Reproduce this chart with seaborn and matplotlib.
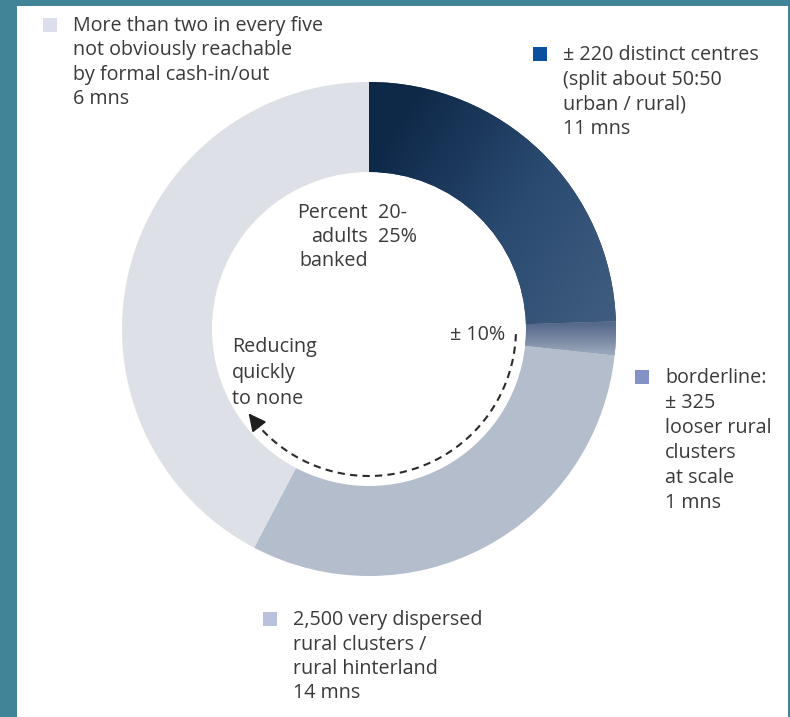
import numpy as np
import matplotlib
matplotlib.use("Agg")
import matplotlib.pyplot as plt
import seaborn as sns
from matplotlib.patches import Rectangle

# Segment shares of the ring (percent of adults), clockwise from the top
segments = ["centres", "borderline", "hinterland", "unreachable"]
shares = [24.5, 2.2, 31.0, 42.3]
ring_colors = ["#1f3c62", "#7487a2", "#b3bdcc", "#dde0e6"]
key_colors = ["#0b4f9e", "#8391c4", "#b9c1dc", "#dcdeec"]
key_texts = [
    "\u00b1 220 distinct centres\n(split about 50:50\nurban / rural)\n11 mns",
    "borderline:\n\u00b1 325\nlooser rural\nclusters\nat scale\n1 mns",
    "2,500 very dispersed\nrural clusters /\nrural hinterland\n14 mns",
    "More than two in every five\nnot obviously reachable\nby formal cash-in/out\n6 mns",
]
banked_words = "Percent\nadults\nbanked"
banked_range = "20-\n25%"
trend_start = "\u00b1 10%"
trend_end = "Reducing\nquickly\nto none"

sns.set_theme(style="white")
plt.rcParams["font.family"] = ["Open Sans", "DejaVu Sans"]

W, H = 790, 717
fig = plt.figure(figsize=(W / 100, H / 100), dpi=100)
fig.patch.set_facecolor("#428497")
ax = fig.add_axes([0, 0, 1, 1])
ax.set_facecolor("none")


def py(y):
    return H - y


# white panel
ax.add_patch(Rectangle((17, 0), 788 - 17, H - 6, facecolor="white",
                       edgecolor="none", zorder=0))

cx, cy = 369, py(329)
R, width = 247, 90
wedges, _ = ax.pie(shares, radius=R, center=(cx, cy), startangle=90,
                   counterclock=False, colors=ring_colors,
                   wedgeprops=dict(width=width, linewidth=0))
ax.set_xlim(0, W)
ax.set_ylim(0, H)
ax.set_aspect("auto")
ax.axis("off")

# gradient fills for the two darker segments
dark_cmap = sns.blend_palette(["#0e2848", "#2a4a70", "#415e80"], as_cmap=True)
border_cmap = sns.blend_palette(["#56698a", "#9aa7bb"], as_cmap=True)

x0, x1 = cx - R, cx + R
y0, y1 = cy - R, cy + R
xs = np.linspace(0, 1, 300)
ys = np.linspace(0, 1, 300)
gx, gy = np.meshgrid(xs, ys)
# darker towards the top-left, lighter towards the lower right
diag = np.clip((gx - 0.5) * 1.4 + (1 - gy) * 0.9 - 0.15, 0, 1)
im = ax.imshow(diag, cmap=dark_cmap, extent=(x0, x1, y1, y0),
               origin="upper", zorder=2, interpolation="bilinear")
im.set_clip_path(wedges[0])

vert = np.clip((1 - gy - 0.49) / 0.06, 0, 1)
im2 = ax.imshow(vert, cmap=border_cmap, extent=(x0, x1, y1, y0),
                origin="upper", zorder=2, interpolation="bilinear")
im2.set_clip_path(wedges[1])

ax.set_xlim(0, W)
ax.set_ylim(0, H)

# dashed trend arc inside the ring
r_arc = 147
theta = np.radians(np.linspace(-2, -141, 200))
ax.plot(cx + r_arc * np.cos(theta), cy + r_arc * np.sin(theta),
        color="#2b2b2b", lw=1.5, ls=(0, (3.5, 2.5)), zorder=3)
t_end = np.radians(-145)
t_pre = np.radians(-139)
ax.annotate("", xy=(cx + r_arc * np.cos(t_end), cy + r_arc * np.sin(t_end)),
            xytext=(cx + r_arc * np.cos(t_pre), cy + r_arc * np.sin(t_pre)),
            arrowprops=dict(arrowstyle="-|>,head_length=0.9,head_width=0.45",
                            color="#1e1e1e", lw=1.2, shrinkA=0, shrinkB=0),
            zorder=4)

txt = "#3a3a3a"
fs = 14.2
ls = 1.31

ax.text(368, py(203), banked_words, ha="right", va="top", fontsize=fs,
        color=txt, linespacing=1.28, multialignment="right")
ax.text(378, py(203), banked_range, ha="left", va="top", fontsize=fs,
        color=txt, linespacing=1.28)
ax.text(505, py(335), trend_start, ha="right", va="center", fontsize=fs,
        color=txt)
ax.text(232, py(337), trend_end, ha="left", va="top", fontsize=fs,
        color=txt, linespacing=1.39)

# keys: (square x, square top y, text x, text top y)
key_pos = [
    (533, 47, 563, 45),
    (635, 370, 665, 368),
    (263, 612, 293, 610),
    (43, 18, 73, 16),
]
key_ls = [1.31, 1.34, 1.30, 1.30]
for (sx, sy, tx, ty), col, label, kls in zip(key_pos, key_colors, key_texts,
                                             key_ls):
    ax.add_patch(Rectangle((sx, py(sy + 14)), 14, 14, facecolor=col,
                           edgecolor="none", zorder=3))
    ax.text(tx, py(ty), label, ha="left", va="top", fontsize=fs, color=txt,
            linespacing=kls)

fig.savefig("out.png", dpi=100, facecolor=fig.get_facecolor())
